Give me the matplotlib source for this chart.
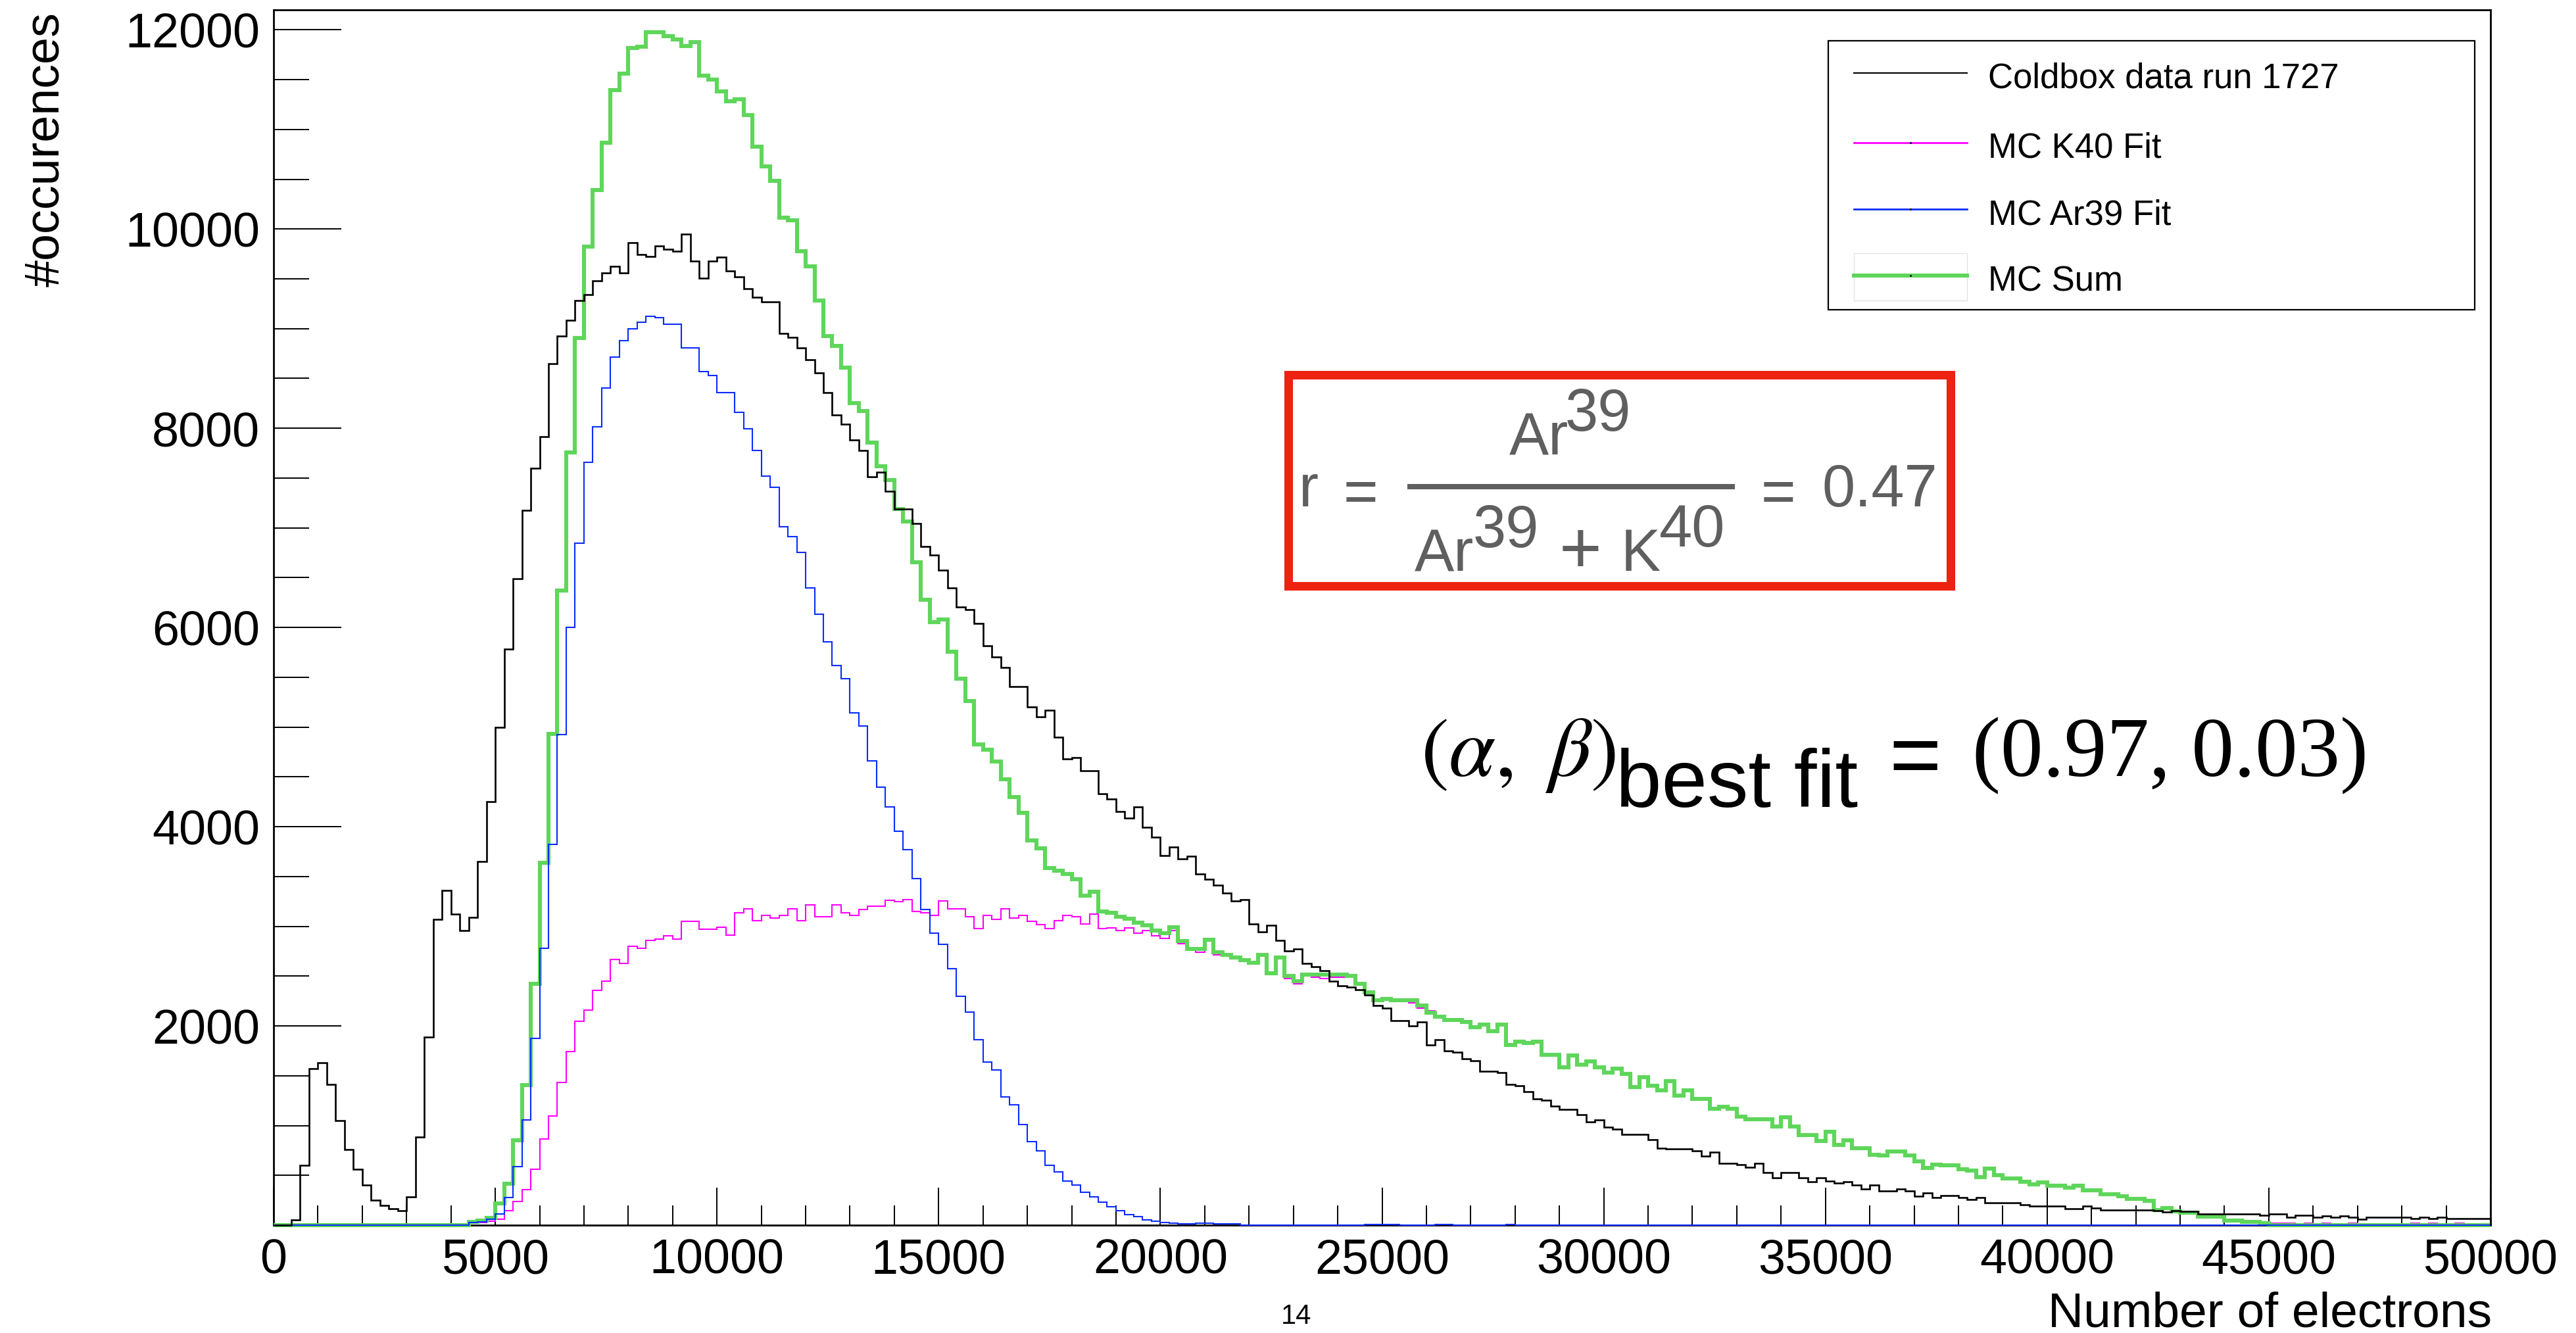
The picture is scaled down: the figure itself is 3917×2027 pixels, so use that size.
"""
Coldbox run 1727 charge spectrum vs. MC (K40 + Ar39) fit, ROOT-style histogram.
Writes out.png (3917x2027).
"""
import matplotlib

matplotlib.use("Agg")
import matplotlib.pyplot as plt  # noqa: E402
import numpy as np  # noqa: E402
from matplotlib.lines import Line2D  # noqa: E402
from matplotlib.patches import Rectangle  # noqa: E402
from matplotlib.ticker import FixedLocator, MultipleLocator  # noqa: E402

W, H, DPI = 3917, 2027, 100
BIN_WIDTH = 200  # electrons per bin, 250 bins from 0 to 50000

# ---- histogram contents (counts per 200-electron bin) ----
data_1727 = [
    0, 0, 50, 600, 1570, 1630, 1410, 1050, 760, 560,
    400, 250, 195, 165, 145, 287, 886, 1885, 3070, 3360,
    3120, 2960, 3090, 3650, 4250, 5000, 5785, 6489, 7178, 7597,
    7914, 8650, 8927, 9085, 9283, 9339, 9481, 9560, 9623, 9560,
    9861, 9742, 9725, 9833, 9797, 9774, 9948, 9679, 9505, 9679,
    9718, 9576, 9521, 9402, 9315, 9267, 9267, 8951, 8911, 8808,
    8689, 8555, 8357, 8136, 8041, 7882, 7779, 7510, 7558, 7368,
    7186, 7186, 7043, 6814, 6727, 6577, 6394, 6205, 6181, 6038,
    5817, 5706, 5595, 5405, 5405, 5200, 5100, 5170, 4896, 4681,
    4692, 4563, 4563, 4331, 4277, 4153, 4089, 4196, 3992, 3895,
    3712, 3793, 3680, 3701, 3524, 3470, 3416, 3335, 3254, 3270,
    3023, 2942, 3012, 2861, 2754, 2770, 2625, 2593, 2555, 2447,
    2404, 2393, 2366, 2312, 2205, 2178, 2054, 2054, 2000, 2043,
    1810, 1860, 1752, 1736, 1668, 1653, 1543, 1543, 1532, 1416,
    1400, 1341, 1268, 1253, 1198, 1163, 1163, 1108, 1037, 1053,
    983, 965, 912, 912, 912, 855, 774, 763, 763, 763,
    745, 692, 730, 620, 620, 609, 582, 620, 525, 473,
    525, 525, 477, 437, 473, 444, 422, 437, 400, 363,
    400, 345, 345, 363, 345, 290, 323, 275, 295, 295,
    277, 258, 279, 222, 222, 222, 222, 207, 189, 189,
    189, 189, 167, 167, 189, 174, 152, 152, 152, 152,
    152, 152, 147, 134, 147, 141, 141, 112, 112, 112,
    112, 112, 112, 112, 101, 112, 112, 79, 97, 97,
    79, 92, 79, 92, 79, 57, 79, 79, 79, 79,
    79, 64, 79, 64, 79, 64, 64, 64, 64, 64,
]

mc_k40 = [
    0, 0, 0, 0, 15, 15, 15, 15, 15, 0,
    0, 0, 0, 0, 0, 0, 0, 0, 0, 0,
    0, 0, 24, 28, 40, 60, 145, 235, 358, 560,
    865, 1094, 1431, 1743, 2048, 2160, 2360, 2450, 2670, 2630,
    2798, 2782, 2857, 2873, 2904, 2873, 3047, 3047, 2968, 2968,
    2992, 2912, 3134, 3173, 3055, 3110, 3086, 3110, 3173, 3055,
    3213, 3094, 3094, 3213, 3134, 3110, 3166, 3205, 3205, 3261,
    3245, 3268, 3150, 3134, 3110, 3253, 3173, 3173, 3094, 2976,
    3110, 3071, 3173, 3086, 3110, 3047, 3015, 2976, 3055, 3109,
    3093, 3023, 3120, 2975, 2985, 2958, 2985, 2932, 2958, 2904,
    2877, 2960, 2824, 2770, 2743, 2850, 2716, 2700, 2673, 2646,
    2619, 2716, 2528, 2689, 2474, 2420, 2501, 2490, 2474, 2490,
    2490, 2501, 2420, 2323, 2259, 2286, 2259, 2259, 2232, 2178,
    2151, 2098, 2060, 2060, 2038, 1989, 2011, 1950, 2011, 1807,
    1844, 1829, 1844, 1708, 1708, 1587, 1704, 1609, 1646, 1587,
    1532, 1572, 1521, 1389, 1488, 1400, 1356, 1448, 1301, 1356,
    1268, 1268, 1169, 1191, 1169, 1092, 1064, 1064, 1064, 993,
    1081, 993, 906, 906, 844, 939, 807, 851, 774, 774,
    708, 697, 741, 741, 697, 642, 576, 609, 598, 598,
    560, 545, 481, 569, 503, 470, 470, 437, 409, 431,
    393, 393, 376, 393, 349, 349, 310, 310, 288, 266,
    266, 244, 152, 169, 141, 123, 123, 86, 86, 86,
    46, 46, 31, 31, 20, 22, 22, 22, 0, 22,
    0, 22, 0, 0, 22, 0, 0, 0, 0, 0,
    0, 22, 0, 22, 0, 0, 22, 0, 0, 0,
]

mc_ar39 = [
    0, 0, 0, 0, 0, 0, 0, 0, 0, 0,
    0, 0, 0, 0, 0, 0, 0, 0, 0, 0,
    0, 0, 24, 34, 57, 114, 275, 590, 1053, 1872,
    2780, 3820, 4925, 5999, 6846, 7661, 8017, 8405, 8713, 8880,
    8998, 9062, 9125, 9109, 9046, 9046, 8808, 8808, 8571, 8531,
    8357, 8357, 8159, 7993, 7779, 7518, 7407, 7012, 6909, 6751,
    6394, 6133, 5856, 5619, 5484, 5144, 5010, 4661, 4400, 4202,
    3957, 3767, 3482, 3166, 2928, 2817, 2572, 2295, 2137, 1860,
    1638, 1559, 1290, 1211, 1013, 839, 745, 603, 536, 444,
    402, 332, 283, 229, 186, 148, 105, 89, 52, 41,
    25, 20, 15, 12, 20, 20, 10, 12, 15, 0,
    0, 0, 0, 0, 0, 0, 0, 0, 0, 0,
    0, 0, 0, 6, 6, 6, 6, 0, 0, 0,
    0, 6, 6, 0, 0, 0, 0, 0, 0, 6,
    0, 0, 0, 0, 0, 0, 0, 0, 0, 0,
    0, 0, 0, 0, 0, 0, 0, 0, 0, 0,
    0, 0, 0, 0, 0, 0, 0, 0, 0, 0,
    0, 0, 0, 0, 0, 0, 0, 0, 0, 0,
    0, 0, 0, 0, 0, 0, 0, 0, 0, 0,
    0, 0, 0, 0, 0, 0, 0, 0, 0, 0,
    0, 0, 0, 0, 0, 0, 0, 0, 0, 0,
    0, 0, 0, 0, 0, 0, 0, 0, 0, 0,
    0, 0, 0, 0, 0, 0, 0, 0, 0, 0,
    0, 0, 0, 0, 0, 0, 0, 0, 0, 0,
    0, 0, 0, 0, 0, 0, 0, 0, 0, 0,
]

mc_sum = [
    0, 0, 0, 0, 0, 0, 0, 0, 0, 0,
    0, 0, 0, 0, 0, 0, 0, 0, 0, 0,
    0, 0, 30, 45, 70, 215, 419, 850, 1409, 2420,
    3640, 4930, 6371, 7756, 8903, 9821, 10391, 10866, 11396, 11560,
    11816, 11831, 11974, 11974, 11934, 11900, 11839, 11879, 11539, 11499,
    11380, 11285, 11301, 11143, 10826, 10629, 10486, 10114, 10090, 9774,
    9624, 9284, 8928, 8825, 8610, 8254, 8175, 7859, 7621, 7479,
    7186, 7067, 6656, 6276, 6054, 6078, 5754, 5485, 5263, 4828,
    4772, 4653, 4479, 4297, 4138, 3862, 3783, 3585, 3560, 3524,
    3470, 3308, 3346, 3147, 3136, 3093, 3077, 3039, 3012, 2958,
    2931, 2990, 2851, 2770, 2770, 2862, 2743, 2716, 2689, 2662,
    2635, 2716, 2528, 2689, 2501, 2447, 2512, 2512, 2512, 2512,
    2512, 2501, 2420, 2339, 2259, 2270, 2259, 2259, 2259, 2205,
    2130, 2090, 2060, 2060, 2038, 1989, 2011, 1950, 2011, 1807,
    1844, 1829, 1844, 1708, 1708, 1587, 1704, 1609, 1646, 1587,
    1532, 1572, 1521, 1389, 1488, 1400, 1356, 1448, 1301, 1356,
    1268, 1268, 1169, 1191, 1169, 1092, 1064, 1064, 1064, 993,
    1081, 993, 906, 906, 844, 939, 807, 851, 774, 774,
    708, 697, 741, 741, 697, 642, 576, 609, 598, 598,
    560, 545, 481, 569, 503, 470, 470, 437, 409, 431,
    393, 393, 376, 393, 349, 349, 310, 310, 288, 266,
    266, 244, 152, 169, 141, 123, 123, 86, 86, 86,
    46, 46, 31, 31, 20, 0, 0, 0, 0, 0,
    0, 0, 0, 0, 0, 0, 0, 0, 0, 0,
    0, 0, 0, 0, 0, 0, 0, 0, 0, 0,
]

LEGEND_LABELS = ["Coldbox data run 1727", "MC K40 Fit", "MC Ar39 Fit", "MC Sum"]
X_TICKS = [0, 5000, 10000, 15000, 20000, 25000, 30000, 35000, 40000, 45000, 50000]
Y_TICKS = [2000, 4000, 6000, 8000, 10000, 12000]
X_RANGE = (0, 50000)
Y_RANGE = (0, 12200)

C_DATA = "#000000"
C_K40 = "#ff00ff"
C_AR39 = "#0a2dff"
C_SUM = "#5fd65b"
C_FORMULA = "#5f5f5f"
C_BOX = "#ee2211"

SANS = "Liberation Sans"
SERIF = "Liberation Serif"

# frame of the pad, in reference pixels
AX_L, AX_R, AX_T, AX_B = 416, 3787, 15, 1863

plt.rcParams.update({"font.family": [SANS, "DejaVu Sans"], "axes.linewidth": 2.0})


def fx(px):
    return px / W


def fy(py):
    return 1.0 - py / H


def ftext(fig, x, y, s, **kw):
    """Text placed in reference pixel coordinates (origin top-left)."""
    kw.setdefault("va", "baseline")
    kw.setdefault("ha", "left")
    return fig.text(fx(x), fy(y), s, **kw)


def draw_histograms(ax):
    edges = np.arange(len(data_1727) + 1) * BIN_WIDTH
    common = dict(baseline=0, fill=False, joinstyle="miter", clip_on=False)
    ax.stairs(mc_k40, edges, color=C_K40, lw=1.5, zorder=2, **common)
    ax.stairs(mc_sum, edges, color=C_SUM, lw=4.4, zorder=3, **common)
    ax.stairs(mc_ar39, edges, color=C_AR39, lw=1.5, zorder=4, **common)
    ax.stairs(data_1727, edges, color=C_DATA, lw=1.9, zorder=5, **common)


def style_axes(ax):
    ax.set_xlim(*X_RANGE)
    ax.set_ylim(*Y_RANGE)
    ax.xaxis.set_major_locator(FixedLocator(X_TICKS))
    ax.xaxis.set_minor_locator(MultipleLocator(1000))
    ax.yaxis.set_major_locator(FixedLocator(Y_TICKS))
    ax.yaxis.set_minor_locator(MultipleLocator(500))
    ax.tick_params(axis="x", which="major", direction="in", length=41, width=1.4,
                   pad=14, labelsize=53)
    ax.tick_params(axis="x", which="minor", direction="in", length=21.5, width=1.4)
    ax.tick_params(axis="y", which="major", direction="in", length=74, width=1.4,
                   pad=15, labelsize=53)
    ax.tick_params(axis="y", which="minor", direction="in", length=39, width=1.4)
    for s in ax.spines.values():
        s.set_color("black")


def draw_legend(fig):
    fig.add_artist(Rectangle((fx(2780), fy(471)), fx(3763 - 2780), (471 - 62) / H,
                             transform=fig.transFigure, facecolor="white",
                             edgecolor="black", lw=1.6, zorder=10))
    rows_y = [111, 217, 318, 419]
    colors = [C_DATA, C_K40, C_AR39, C_SUM]
    widths = [1.5, 2.0, 2.0, 4.4]
    # faint fill-box behind the MC Sum entry
    fig.add_artist(Rectangle((fx(2819), fy(457)), fx(172), 72 / H,
                             transform=fig.transFigure, facecolor="none",
                             edgecolor="#e4e4e4", lw=1.0, zorder=11))
    for i, (label, y, c, lw) in enumerate(zip(LEGEND_LABELS, rows_y, colors, widths)):
        fig.add_artist(Line2D([fx(2819), fx(2991)], [fy(y), fy(y)],
                              transform=fig.transFigure, color=c, lw=lw, zorder=12))
        if i > 0:
            fig.add_artist(Line2D([fx(2905)], [fy(y)], transform=fig.transFigure,
                                  marker="o", ms=1.2, color="black", lw=0, zorder=13))
        ftext(fig, 3023, y + 23, label, fontsize=38, zorder=13)


def draw_ratio_box(fig):
    fig.add_artist(Rectangle((fx(1959.5), fy(891.5)), fx(2966 - 1959.5), (891.5 - 570.5) / H,
                             transform=fig.transFigure, facecolor="white",
                             edgecolor=C_BOX, lw=9.4, joinstyle="miter", zorder=10))
    kw = dict(fontsize=65, color=C_FORMULA, zorder=12)
    ftext(fig, 1975, 770, "r", **kw)
    ftext(fig, 2043, 778, "=", **kw)
    fig.add_artist(Line2D([fx(2140), fx(2638)], [fy(740), fy(740)],
                          transform=fig.transFigure, color=C_FORMULA, lw=5.8,
                          solid_capstyle="butt", zorder=12))
    # numerator
    ftext(fig, 2295, 692, "Ar", **kw)
    ftext(fig, 2380, 655, "39", **kw)
    # denominator
    ftext(fig, 2151, 868, "Ar", **kw)
    ftext(fig, 2240, 832, "39", **kw)
    ftext(fig, 2403, 871, "+", ha="center", fontsize=80, color=C_FORMULA, zorder=12)
    ftext(fig, 2465, 868, "K", **kw)
    ftext(fig, 2523, 831, "40", **kw)
    ftext(fig, 2678, 778, "=", **kw)
    ftext(fig, 2771, 770, "0.47", **kw)


def draw_best_fit(fig):
    ftext(fig, 2160, 1180, r"$(\alpha,\ \beta)$", fontsize=92, math_fontfamily="stix")
    ftext(fig, 2457, 1227, "best fit", fontsize=90)
    ftext(fig, 2872, 1194, "=", fontsize=98)
    ftext(fig, 2999, 1180, "(0.97, 0.03)", fontsize=93, family=[SERIF, "DejaVu Serif"])


def main():
    fig = plt.figure(figsize=(W / DPI, H / DPI), dpi=DPI)
    ax = fig.add_axes([fx(AX_L), fy(AX_B), fx(AX_R) - fx(AX_L), fy(AX_T) - fy(AX_B)])
    draw_histograms(ax)
    style_axes(ax)

    fig.text(fx(70), fy(18), "#occurences", rotation=90, ha="center", va="top", fontsize=53)
    ftext(fig, AX_R + 2, 2017, "Number of electrons", ha="right", fontsize=54)
    ftext(fig, 1971, 2013, "14", ha="center", fontsize=30)

    draw_legend(fig)
    draw_ratio_box(fig)
    draw_best_fit(fig)

    fig.savefig("out.png", dpi=DPI, facecolor="white")
    plt.close(fig)


if __name__ == "__main__":
    main()
